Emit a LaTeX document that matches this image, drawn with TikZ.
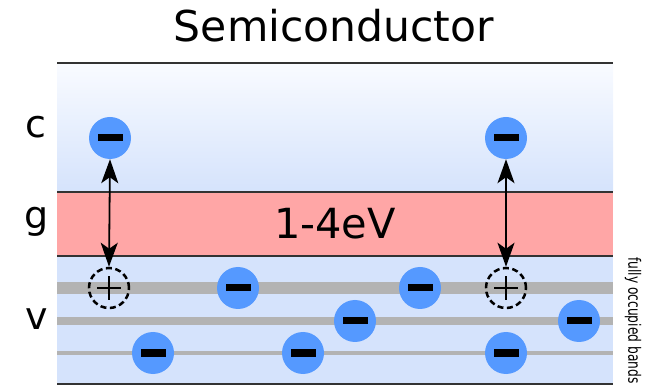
\documentclass[tikz,border=0pt]{standalone}
\usepackage{fontspec}
\setmainfont{DejaVu Sans}
\newfontfamily\narrowfont[FakeStretch=0.72]{DejaVu Sans}
\definecolor{elecblue}{RGB}{85, 153, 255}
\definecolor{gapred}{RGB}{255, 166, 166}
\definecolor{bandblue}{RGB}{213, 227, 252}
\definecolor{bandtop}{RGB}{249, 251, 255}
\definecolor{levelgray}{RGB}{179, 179, 179}
\definecolor{edgegray}{RGB}{51, 51, 51}
\usetikzlibrary{
    shapes.geometric,
    arrows.meta,
    positioning,
    calc
}

\begin{document}
\begin{tikzpicture}[x=1pt, y=1pt,
    >={Stealth[length=24pt, width=17pt, inset=6pt]},
    electron/.style={circle, fill=elecblue, minimum size=42pt, inner sep=0pt},
    hole/.style={circle, draw=black, line width=2.5pt, dash pattern=on 6pt off 3.5pt,
        minimum size=40pt, inner sep=0pt,
        path picture={\draw[solid, line width=1.8pt]
            ($(path picture bounding box.center)+(-12pt,0)$) -- ++(24pt,0)
            ($(path picture bounding box.center)+(0,-12pt)$) -- ++(0,24pt);}},
    bandlabel/.style={font=\fontsize{38}{44}\selectfont, anchor=base},
    jump/.style={<->, line width=1.8pt}]
    \useasboundingbox (0,0) rectangle (652,385);

    % Title
    \node[font=\fontsize{42.5}{48}\selectfont, anchor=base] (title) at (334,343) {Semiconductor};

    % Conduction band (shaded)
    \shade[top color=bandtop, bottom color=bandblue] (57,193) rectangle (613,322);
    % Band gap
    \fill[gapred] (57,129) rectangle (613,193);
    % Valence band
    \fill[bandblue] (57,1) rectangle (613,129);

    % Occupied levels
    \draw[levelgray, line width=12pt] (57,97) -- (613,97);
    \draw[levelgray, line width=8pt] (57,64) -- (613,64);
    \draw[levelgray, line width=4pt] (57,32) -- (613,32);

    % Band edges
    \foreach \y in {322,193,129,1}
        \draw[edgegray, line width=1.5pt] (57,\y) -- (613,\y);

    % Labels
    \node[bandlabel] (lc) at (36,247) {c};
    \node[bandlabel] (lg) at (37,156) {g};
    \node[bandlabel] (lv) at (37,55) {v};
    \node[font=\fontsize{41.5}{46}\selectfont, anchor=base] (gap) at (335,146) {1-4eV};
    \node[font=\narrowfont\fontsize{17}{20}\selectfont, rotate=-90, anchor=west, inner sep=0pt] (occ) at (633,128) {fully occupied bands};

    % Excited electrons and holes
    \node[electron] (ec1) at (110,247) {\rule[-3.5pt]{25pt}{7pt}};
    \node[electron] (ec2) at (506,247) {\rule[-3.5pt]{25pt}{7pt}};
    \node[hole] (hv1) at (109,97) {};
    \node[hole] (hv2) at (506,97) {};

    % Electrons in valence band
    \foreach \x/\y/\n in {238/97/ev1, 420/97/ev2, 355/64/ev3, 579/64/ev4,
                          153/32/ev5, 303/32/ev6, 506/32/ev7}
        \node[electron] (\n) at (\x,\y) {\rule[-3.5pt]{25pt}{7pt}};

    % Transitions
    \draw[jump] (hv1.north) -- (ec1.south);
    \draw[jump] (hv2.north) -- (ec2.south);
\end{tikzpicture}
\end{document}
